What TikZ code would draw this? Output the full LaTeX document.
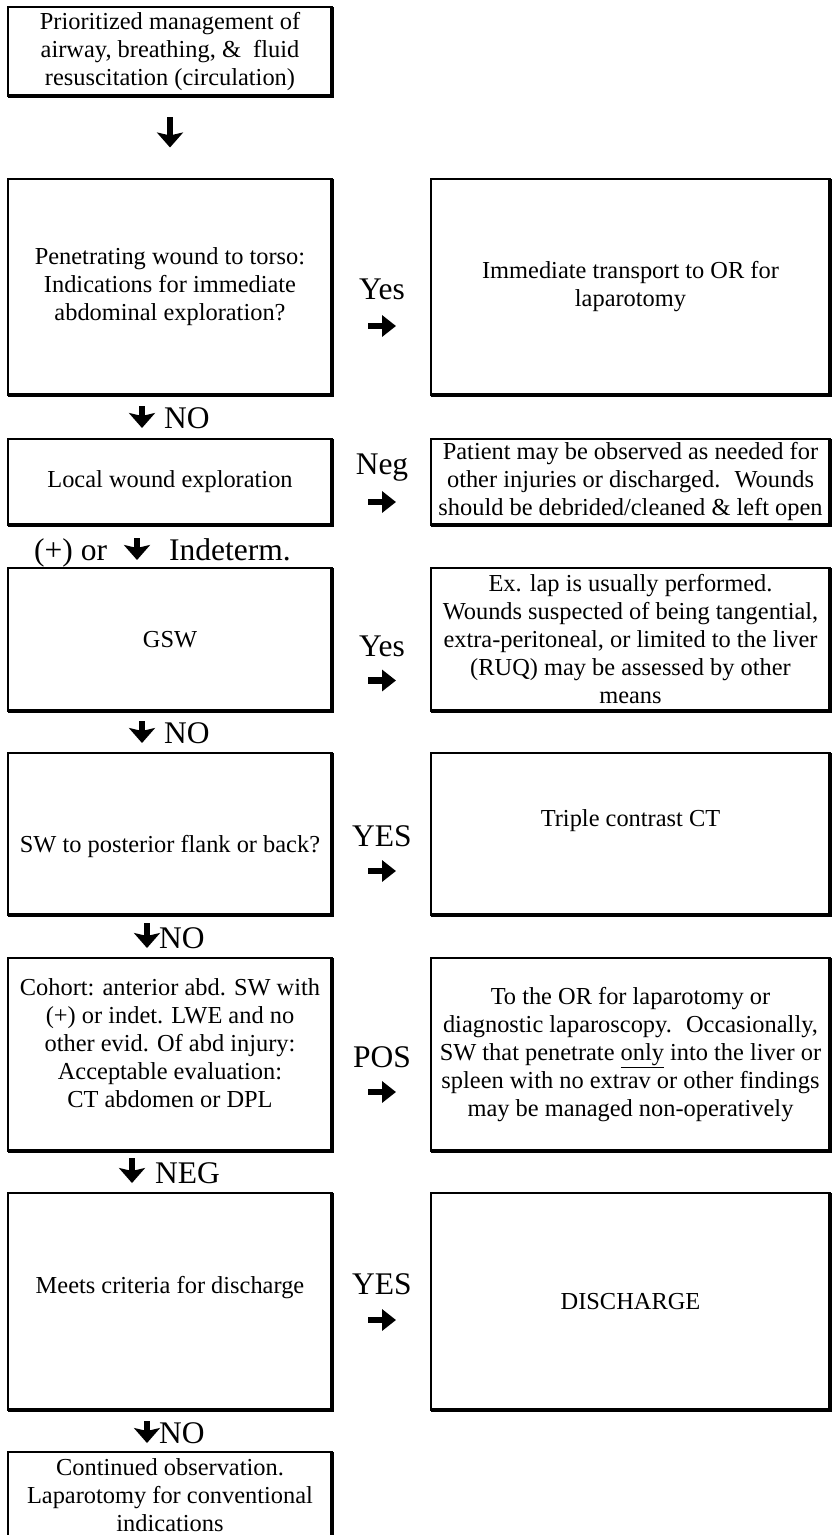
\documentclass[tikz,border=0pt]{standalone}
\usepackage{fontspec}
\setmainfont{Liberation Serif}
\usetikzlibrary{arrows.meta}
\begin{document}
\begin{tikzpicture}[x=1pt,y=-1pt,
  box/.style={draw, line width=2pt, outer sep=0pt, inner sep=0pt, rectangle},
  lbox/.style={box, minimum width=324pt},
  rbox/.style={box, minimum width=399pt},
  heavy/.style={line width=4pt, line join=miter},
  body/.style={font=\fontsize{24.4}{28}\selectfont, align=center, inner sep=0pt},
  lab/.style={font=\fontsize{31.5}{34}\selectfont, inner sep=0pt},
  rarr/.style={line width=6.5pt, -{Triangle[width=21pt,length=14pt]}},
  darr/.style={line width=6.5pt, -{Stealth[width=26pt,length=15pt,inset=3pt]}}]
\useasboundingbox (0,0) rectangle (832,1535);
\clip (0,0) rectangle (832,1535);
\fill[white] (0,0) rectangle (832,1535);

% boxes
\node[lbox, body, minimum height=88.5pt] (b1) at (170,51.25)
  {Prioritized management of\\airway, breathing, \&\ \ fluid\\resuscitation (circulation)};
\node[lbox, body, minimum height=216pt] (b2l) at (170,287)
  {Penetrating wound to torso:\\Indications for immediate\\abdominal exploration?};
\node[rbox, body, minimum height=216pt] (b2r) at (630.5,287)
  {Immediate transport to OR for\\laparotomy};
\node[lbox, body, minimum height=85.5pt] (b3l) at (170,481.75)
  {Local wound exploration};
\node[rbox, body, minimum height=85.5pt] (b3r) at (630.5,481.75)
  {Patient may be observed as needed for\\other injuries or discharged.~ Wounds\\should be debrided/cleaned \& left open};
\node[lbox, body, minimum height=142.5pt] (b4l) at (170,639.25) {GSW};
\node[rbox, body, minimum height=142.5pt] (b4r) at (630.5,639.25)
  {Ex. lap is usually performed.\\Wounds suspected of being tangential,\\extra-peritoneal, or limited to the liver\\(RUQ) may be assessed by other\\means};
\node[lbox, minimum height=162pt] (b5l) at (170,834) {};
\node[body] (t5l) at (170,846) {SW to posterior flank or back?};
\node[rbox, minimum height=162pt] (b5r) at (630.5,834) {};
\node[body] (t5r) at (630.5,821) {Triple contrast CT};
\node[lbox, minimum height=192.5pt] (b6l) at (170,1054.25) {};
\node[body] (t6l) at (170,1043)
  {Cohort: anterior abd. SW with\\(+) or indet. LWE and no\\other evid. Of abd injury:\\Acceptable evaluation:\\CT abdomen or DPL};
\node[rbox, body, minimum height=192.5pt] (b6r) at (630.5,1054.25)
  {To the OR for laparotomy or\\diagnostic laparoscopy.~ Occasionally,\\SW that penetrate \underline{only} into the liver or\\spleen with no extrav or other findings\\may be managed non-operatively};
\node[lbox, minimum height=217pt] (b7l) at (170,1301.5) {};
\node[body] (t7l) at (170,1288) {Meets criteria for discharge};
\node[rbox, body, minimum height=217pt] (b7r) at (630.5,1301.5) {DISCHARGE};
\node[lbox, minimum height=148pt] (b8) at (170,1526) {};
\node[body] (t8) at (170,1495)
  {Continued observation.\\Laparotomy for conventional\\indications};

\foreach \n in {b1,b2l,b2r,b3l,b3r,b4l,b4r,b5l,b5r,b6l,b6r,b7l,b7r,b8}
  \draw[heavy] (\n.north east) -- (\n.south east) -- (\n.south west);

% top arrow
\draw[darr] ([shift={(0,21.5)}]b1.south) -- ([shift={(0,52)}]b1.south);

% side labels with right arrows
\node[lab, anchor=base] (l2) at (382,299.5) {Yes};
\draw[rarr] ([shift={(-14,26.5)}]l2.base) -- ([shift={(14,26.5)}]l2.base);
\node[lab, anchor=base] (l3) at (382,474) {Neg};
\draw[rarr] ([shift={(-14,28)}]l3.base) -- ([shift={(14,28)}]l3.base);
\node[lab, anchor=base] (l4) at (382,656) {Yes};
\draw[rarr] ([shift={(-14,24.5)}]l4.base) -- ([shift={(14,24.5)}]l4.base);
\node[lab, anchor=base] (l5) at (382,846) {YES};
\draw[rarr] ([shift={(-14,25)}]l5.base) -- ([shift={(14,25)}]l5.base);
\node[lab, anchor=base] (l6) at (382,1067) {POS};
\draw[rarr] ([shift={(-14,25)}]l6.base) -- ([shift={(14,25)}]l6.base);
\node[lab, anchor=base] (l7) at (382,1294) {YES};
\draw[rarr] ([shift={(-14,26)}]l7.base) -- ([shift={(14,26)}]l7.base);

% down labels with down arrows
\node[lab, anchor=base west] (n2) at (164,428) {NO};
\draw[darr] ([shift={(-22,-22)}]n2.base west) -- ([shift={(-22,0)}]n2.base west);
\node[lab, anchor=base west] (i3a) at (34,560) {(+) or};
\node[lab, anchor=base west] (i3b) at (169,560) {Indeterm.};
\draw[darr] ([shift={(-32,-22)}]i3b.base west) -- ([shift={(-32,0)}]i3b.base west);
\node[lab, anchor=base west] (n4) at (164,743) {NO};
\draw[darr] ([shift={(-22,-22)}]n4.base west) -- ([shift={(-22,0)}]n4.base west);
\node[lab, anchor=base west] (n5) at (159,948) {NO};
\draw[darr] ([shift={(-12,-25)}]n5.base west) -- ([shift={(-12,0)}]n5.base west);
\node[lab, anchor=base west] (n6) at (155,1183) {NEG};
\draw[darr] ([shift={(-23,-25)}]n6.base west) -- ([shift={(-23,0)}]n6.base west);
\node[lab, anchor=base west] (n7) at (159,1443) {NO};
\draw[darr] ([shift={(-12,-22)}]n7.base west) -- ([shift={(-12,0)}]n7.base west);
\end{tikzpicture}
\end{document}
